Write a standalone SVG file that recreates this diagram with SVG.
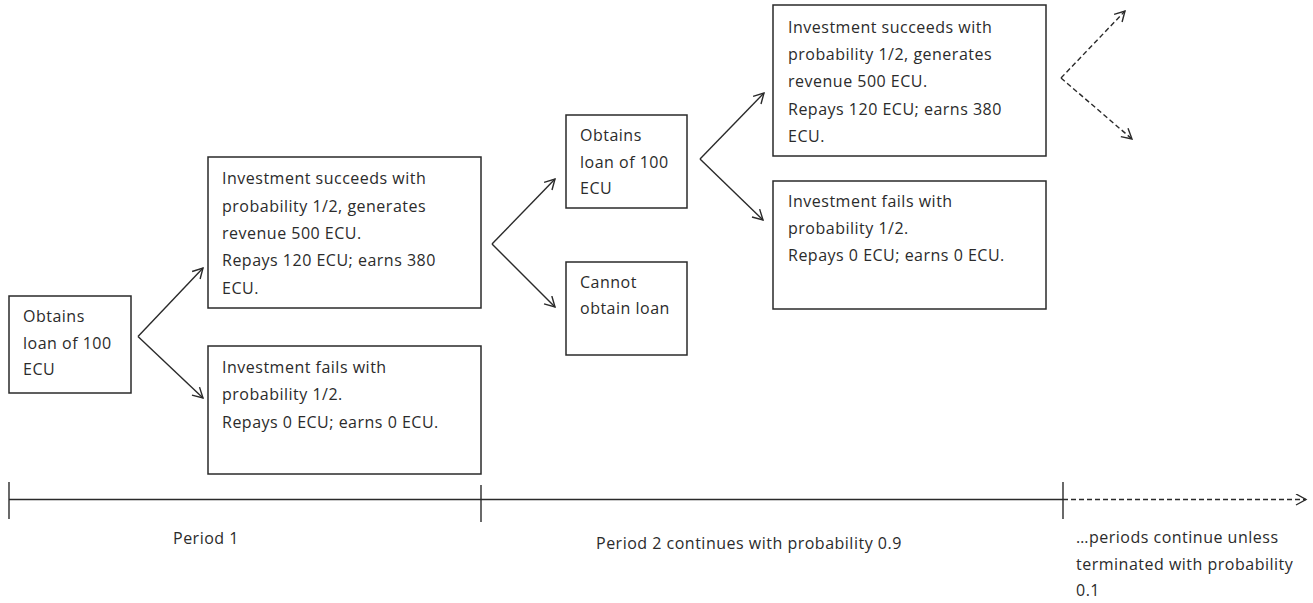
<svg xmlns="http://www.w3.org/2000/svg" width="1313" height="603" viewBox="0 0 1313 603">
<style>
  .box { fill: #ffffff; stroke: #2a2a2a; stroke-width: 1.5; }
  .t { font-family: "Open Sans", "Liberation Sans", sans-serif; font-size: 16px; letter-spacing: 0.5px; fill: #2b2b2b; }
  .c { stroke: #2a2a2a; stroke-width: 1.4; fill: none; }
  .d { stroke-dasharray: 5 3; }
</style>
<defs>
  <marker id="ah" markerUnits="userSpaceOnUse" markerWidth="14" markerHeight="14" refX="11" refY="6" orient="auto">
    <path d="M1,0.5 L11,6 L1,11.5" fill="none" stroke="#2a2a2a" stroke-width="1.4"/>
  </marker>
</defs>
<rect width="1313" height="603" fill="#ffffff"/>

<g id="connectors">
  <line class="c" x1="138" y1="336.5" x2="203" y2="268" marker-end="url(#ah)"/>
  <line class="c" x1="138" y1="336.5" x2="203" y2="398" marker-end="url(#ah)"/>
  <line class="c" x1="492" y1="244" x2="555" y2="179" marker-end="url(#ah)"/>
  <line class="c" x1="492" y1="244" x2="555" y2="307" marker-end="url(#ah)"/>
  <line class="c" x1="700" y1="159" x2="764" y2="93" marker-end="url(#ah)"/>
  <line class="c" x1="700" y1="159" x2="763" y2="220" marker-end="url(#ah)"/>
  <line class="c d" x1="1061" y1="78" x2="1125" y2="11" marker-end="url(#ah)"/>
  <line class="c d" x1="1061" y1="78" x2="1132" y2="139" marker-end="url(#ah)"/>
</g>

<g id="timeline">
  <line class="c" x1="9" y1="499.5" x2="1063" y2="499.5"/>
  <line class="c" x1="9" y1="482" x2="9" y2="519"/>
  <line class="c" x1="481" y1="485" x2="481" y2="522"/>
  <line class="c" x1="1063" y1="482" x2="1063" y2="519"/>
  <line class="c d" x1="1063" y1="499.5" x2="1306" y2="499.5" marker-end="url(#ah)"/>
  <text class="t" x="173" y="544">Period 1</text>
  <text class="t" x="596" y="549">Period 2 continues with probability 0.9</text>
  <text class="t" x="1076" y="543">…periods continue unless</text>
  <text class="t" x="1076" y="569.5">terminated with probability</text>
  <text class="t" x="1076" y="596">0.1</text>
</g>

<g id="node-obtain1">
  <rect class="box" x="9" y="296" width="122" height="97"/>
  <text class="t" x="23" y="322">Obtains</text>
  <text class="t" x="23" y="348.5">loan of 100</text>
  <text class="t" x="23" y="375">ECU</text>
</g>

<g id="node-success1">
  <rect class="box" x="208" y="157" width="273" height="151"/>
  <text class="t" x="222" y="184.3">Investment succeeds with</text>
  <text class="t" x="222" y="211.6">probability 1/2, generates</text>
  <text class="t" x="222" y="238.9">revenue 500 ECU.</text>
  <text class="t" x="222" y="266.2">Repays 120 ECU; earns 380</text>
  <text class="t" x="222" y="293.5">ECU.</text>
</g>

<g id="node-fail1">
  <rect class="box" x="208" y="346" width="273" height="128"/>
  <text class="t" x="222" y="373">Investment fails with</text>
  <text class="t" x="222" y="400">probability 1/2.</text>
  <text class="t" x="222" y="427.5">Repays 0 ECU; earns 0 ECU.</text>
</g>

<g id="node-obtain2">
  <rect class="box" x="566" y="115" width="121" height="93"/>
  <text class="t" x="580" y="141">Obtains</text>
  <text class="t" x="580" y="167.5">loan of 100</text>
  <text class="t" x="580" y="194">ECU</text>
</g>

<g id="node-cannot">
  <rect class="box" x="566" y="262" width="121" height="93"/>
  <text class="t" x="580" y="288">Cannot</text>
  <text class="t" x="580" y="314">obtain loan</text>
</g>

<g id="node-success2">
  <rect class="box" x="773" y="5" width="273" height="151"/>
  <text class="t" x="788" y="33">Investment succeeds with</text>
  <text class="t" x="788" y="60">probability 1/2, generates</text>
  <text class="t" x="788" y="87">revenue 500 ECU.</text>
  <text class="t" x="788" y="114.5">Repays 120 ECU; earns 380</text>
  <text class="t" x="788" y="141.5">ECU.</text>
</g>

<g id="node-fail2">
  <rect class="box" x="773" y="181" width="273" height="128"/>
  <text class="t" x="788" y="207">Investment fails with</text>
  <text class="t" x="788" y="234">probability 1/2.</text>
  <text class="t" x="788" y="261">Repays 0 ECU; earns 0 ECU.</text>
</g>
</svg>
